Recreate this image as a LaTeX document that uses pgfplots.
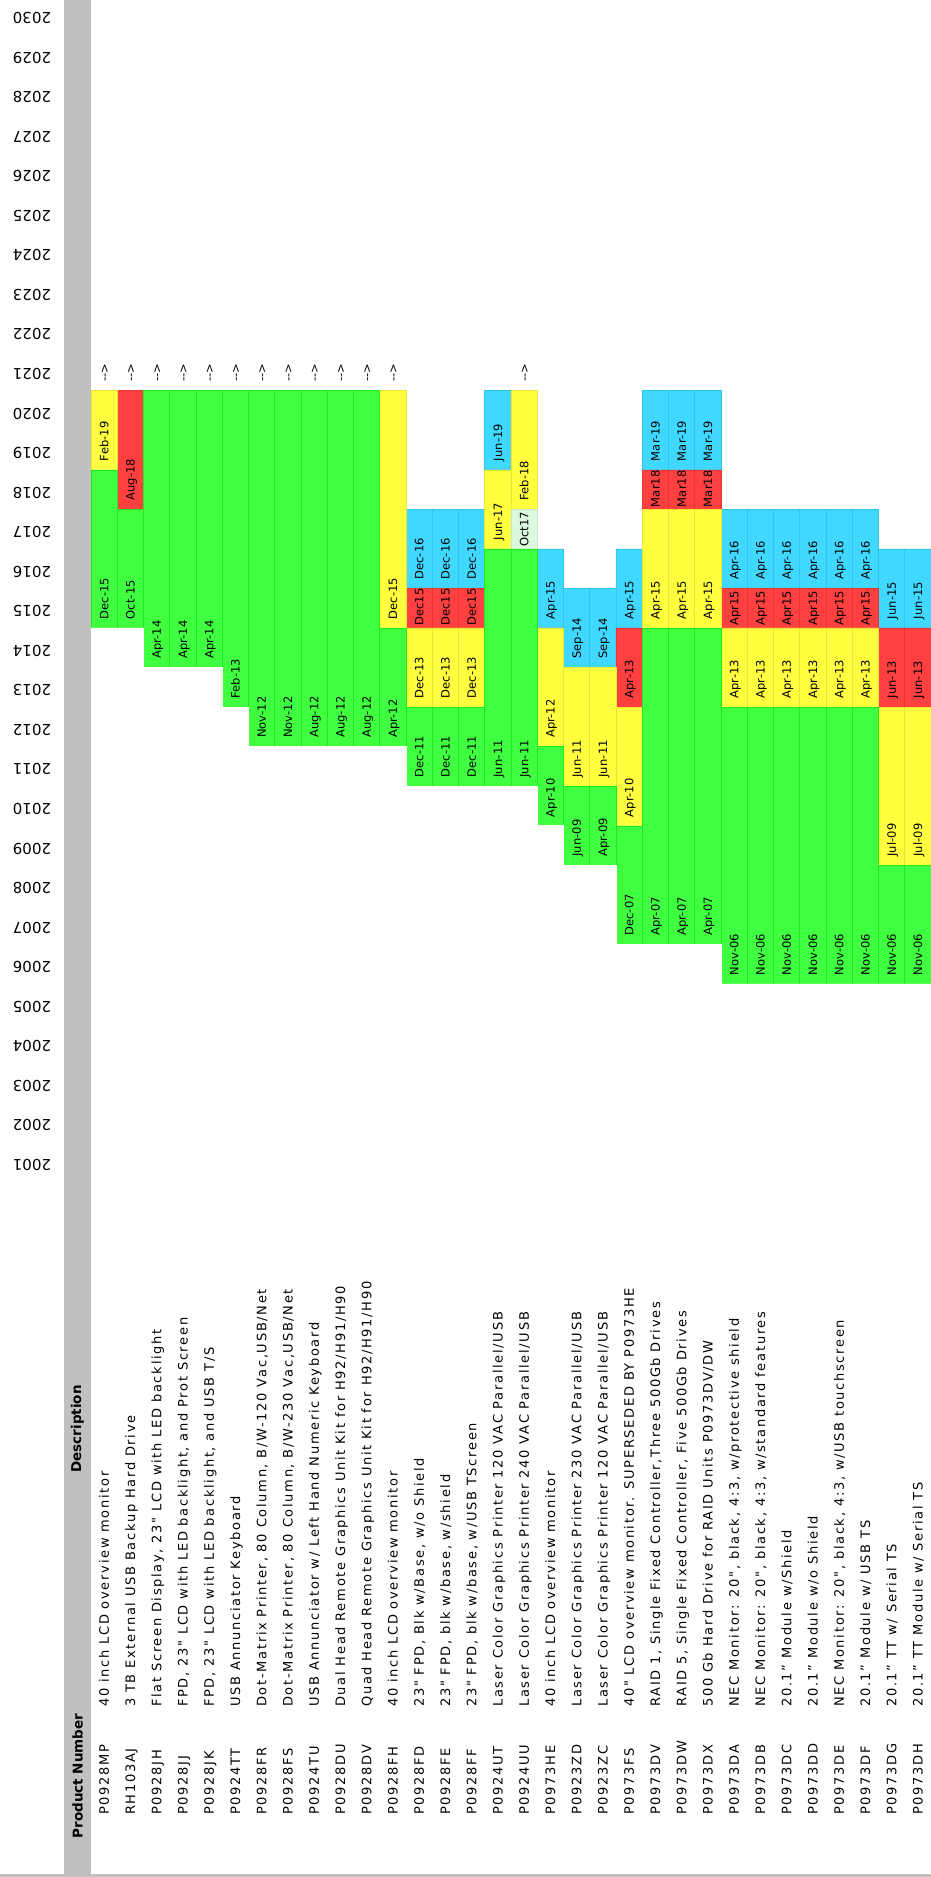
\documentclass[border=0pt]{standalone}
\usepackage{fontspec}
\setmainfont{DejaVu Sans}
\newfontfamily\tblfont{DejaVu Sans}[LetterSpace=13]
\newfontfamily\datfont{DejaVu Sans}[LetterSpace=1]
\usepackage{pgfplots}
\usepackage{pgfplotstable}
\pgfplotsset{compat=1.18}
\definecolor{cG}{HTML}{40FF40}\definecolor{cGd}{HTML}{22E822}
\definecolor{cL}{HTML}{DCF8DE}\definecolor{cLd}{HTML}{C8E8CA}
\definecolor{cY}{HTML}{FFFF40}\definecolor{cYd}{HTML}{E8E832}
\definecolor{cR}{HTML}{FF4040}\definecolor{cRd}{HTML}{E83434}
\definecolor{cB}{HTML}{40D8FF}\definecolor{cBd}{HTML}{2EC4F0}
\definecolor{cGray}{HTML}{C0C0C0}
% S = first year (green), G/L/Y/R/B = last year of green, light green, yellow, red, blue
\pgfplotstableread{
i S G L Y R B
1 2015 2018 2018 2020 2020 2020
2 2015 2017 2017 2017 2020 2020
3 2014 2020 2020 2020 2020 2020
4 2014 2020 2020 2020 2020 2020
5 2014 2020 2020 2020 2020 2020
6 2013 2020 2020 2020 2020 2020
7 2012 2020 2020 2020 2020 2020
8 2012 2020 2020 2020 2020 2020
9 2012 2020 2020 2020 2020 2020
10 2012 2020 2020 2020 2020 2020
11 2012 2020 2020 2020 2020 2020
12 2012 2014 2014 2020 2020 2020
13 2011 2012 2012 2014 2015 2017
14 2011 2012 2012 2014 2015 2017
15 2011 2012 2012 2014 2015 2017
16 2011 2016 2016 2018 2018 2020
17 2011 2016 2017 2020 2020 2020
18 2010 2011 2011 2014 2014 2016
19 2009 2010 2010 2013 2013 2015
20 2009 2010 2010 2013 2013 2015
21 2007 2009 2009 2012 2014 2016
22 2007 2014 2014 2017 2018 2020
23 2007 2014 2014 2017 2018 2020
24 2007 2014 2014 2017 2018 2020
25 2006 2012 2012 2014 2015 2017
26 2006 2012 2012 2014 2015 2017
27 2006 2012 2012 2014 2015 2017
28 2006 2012 2012 2014 2015 2017
29 2006 2012 2012 2014 2015 2017
30 2006 2012 2012 2014 2015 2017
31 2006 2008 2008 2012 2014 2016
32 2006 2008 2008 2012 2014 2016
}\bars
\pgfplotstableread[col sep=semicolon]{
i;pn;desc
1;P0928MP;40 inch LCD overview monitor
2;RH103AJ;3 TB External USB Backup Hard Drive
3;P0928JH;Flat Screen Display, 23" LCD with LED backlight
4;P0928JJ;FPD, 23" LCD with LED backlight, and Prot Screen
5;P0928JK;FPD, 23" LCD with LED backlight, and USB T/S
6;P0924TT;USB Annunciator Keyboard
7;P0928FR;Dot-Matrix Printer, 80 Column, B/W-120 Vac,USB/Net
8;P0928FS;Dot-Matrix Printer, 80 Column, B/W-230 Vac,USB/Net
9;P0924TU;USB Annunciator w/ Left Hand Numeric Keyboard
10;P0928DU;Dual Head Remote Graphics Unit Kit for H92/H91/H90
11;P0928DV;Quad Head Remote Graphics Unit Kit for H92/H91/H90
12;P0928FH;40 inch LCD overview monitor
13;P0928FD;23" FPD, Blk w/Base, w/o Shield
14;P0928FE;23" FPD, blk w/base, w/shield
15;P0928FF;23" FPD, blk w/base, w/USB TScreen
16;P0924UT;Laser Color Graphics Printer 120 VAC Parallel/USB
17;P0924UU;Laser Color Graphics Printer 240 VAC Parallel/USB
18;P0973HE;40 inch LCD overview monitor
19;P0923ZD;Laser Color Graphics Printer 230 VAC Parallel/USB
20;P0923ZC;Laser Color Graphics Printer 120 VAC Parallel/USB
21;P0973FS;40" LCD overview monitor. SUPERSEDED BY P0973HE
22;P0973DV;RAID 1, Single Fixed Controller,Three 500Gb Drives
23;P0973DW;RAID 5, Single Fixed Controller, Five 500Gb Drives
24;P0973DX;500 Gb Hard Drive for RAID Units P0973DV/DW
25;P0973DA;NEC Monitor: 20", black, 4:3, w/protective shield
26;P0973DB;NEC Monitor: 20", black, 4:3, w/standard features
27;P0973DC;20.1” Module w/Shield
28;P0973DD;20.1” Module w/o Shield
29;P0973DE;NEC Monitor: 20", black, 4:3, w/USB touchscreen
30;P0973DF;20.1” Module w/ USB TS
31;P0973DG;20.1” TT w/ Serial TS
32;P0973DH;20.1” TT Module w/ Serial TS
}\prods
% date labels: column, year cell, text, offset from cell bottom
\pgfplotstableread{
i yr lab off
1 2015 Dec-15 0.215
1 2019 Feb-19 0.215
2 2015 Oct-15 0.215
2 2018 Aug-18 0.215
3 2014 Apr-14 0.215
4 2014 Apr-14 0.215
5 2014 Apr-14 0.215
6 2013 Feb-13 0.215
7 2012 Nov-12 0.215
8 2012 Nov-12 0.215
9 2012 Aug-12 0.215
10 2012 Aug-12 0.215
11 2012 Aug-12 0.215
12 2012 Apr-12 0.215
12 2015 Dec-15 0.215
13 2011 Dec-11 0.215
13 2013 Dec-13 0.215
13 2015 Dec15 0.05
13 2016 Dec-16 0.215
14 2011 Dec-11 0.215
14 2013 Dec-13 0.215
14 2015 Dec15 0.05
14 2016 Dec-16 0.215
15 2011 Dec-11 0.215
15 2013 Dec-13 0.215
15 2015 Dec15 0.05
15 2016 Dec-16 0.215
16 2011 Jun-11 0.215
16 2017 Jun-17 0.215
16 2019 Jun-19 0.215
17 2011 Jun-11 0.215
17 2017 Oct17 0.05
17 2018 Feb-18 0.215
18 2010 Apr-10 0.215
18 2012 Apr-12 0.215
18 2015 Apr-15 0.215
19 2009 Jun-09 0.215
19 2011 Jun-11 0.215
19 2014 Sep-14 0.215
20 2009 Apr-09 0.215
20 2011 Jun-11 0.215
20 2014 Sep-14 0.215
21 2007 Dec-07 0.215
21 2010 Apr-10 0.215
21 2013 Apr-13 0.215
21 2015 Apr-15 0.215
22 2007 Apr-07 0.215
22 2015 Apr-15 0.215
22 2018 Mar18 0.05
22 2019 Mar-19 0.215
23 2007 Apr-07 0.215
23 2015 Apr-15 0.215
23 2018 Mar18 0.05
23 2019 Mar-19 0.215
24 2007 Apr-07 0.215
24 2015 Apr-15 0.215
24 2018 Mar18 0.05
24 2019 Mar-19 0.215
25 2006 Nov-06 0.215
25 2013 Apr-13 0.215
25 2015 Apr15 0.05
25 2016 Apr-16 0.215
26 2006 Nov-06 0.215
26 2013 Apr-13 0.215
26 2015 Apr15 0.05
26 2016 Apr-16 0.215
27 2006 Nov-06 0.215
27 2013 Apr-13 0.215
27 2015 Apr15 0.05
27 2016 Apr-16 0.215
28 2006 Nov-06 0.215
28 2013 Apr-13 0.215
28 2015 Apr15 0.05
28 2016 Apr-16 0.215
29 2006 Nov-06 0.215
29 2013 Apr-13 0.215
29 2015 Apr15 0.05
29 2016 Apr-16 0.215
30 2006 Nov-06 0.215
30 2013 Apr-13 0.215
30 2015 Apr15 0.05
30 2016 Apr-16 0.215
31 2006 Nov-06 0.215
31 2009 Jul-09 0.215
31 2013 Jun-13 0.215
31 2015 Jun-15 0.215
32 2006 Nov-06 0.215
32 2009 Jul-09 0.215
32 2013 Jun-13 0.215
32 2015 Jun-15 0.215
}\dates
% columns still marked as continuing ("-->") in 2021
\pgfplotstableread{
i yr
1 2021
2 2021
3 2021
4 2021
5 2021
6 2021
7 2021
8 2021
9 2021
10 2021
11 2021
12 2021
17 2021
}\arrows
\pgfplotstableread{
pos yr
-1.748 2001
-1.748 2002
-1.748 2003
-1.748 2004
-1.748 2005
-1.748 2006
-1.748 2007
-1.748 2008
-1.748 2009
-1.748 2010
-1.748 2011
-1.748 2012
-1.748 2013
-1.748 2014
-1.748 2015
-1.748 2016
-1.748 2017
-1.748 2018
-1.748 2019
-1.748 2020
-1.748 2021
-1.748 2022
-1.748 2023
-1.748 2024
-1.748 2025
-1.748 2026
-1.748 2027
-1.748 2028
-1.748 2029
-1.748 2030
}\years
\begin{document}
\begin{tikzpicture}
\begin{axis}[
  scale only axis, width=931pt, height=1877pt,
  xmin=-2.9667, xmax=32.5, ymin=-17.08, ymax=30.379,
  hide axis,
]
\path (rel axis cs:0,0) rectangle (rel axis cs:1,1);
% phases drawn back to front (each bar from year 2000 up to the end of its phase)
\addplot[ybar, bar width=1, bar shift=0pt, fill=cB, draw=cBd, line width=0.5pt] table[x=i, y expr=\thisrow{B}-1999.5] {\bars};
\addplot[ybar, bar width=1, bar shift=0pt, fill=cR, draw=cRd, line width=0.5pt] table[x=i, y expr=\thisrow{R}-1999.5] {\bars};
\addplot[ybar, bar width=1, bar shift=0pt, fill=cY, draw=cYd, line width=0.5pt] table[x=i, y expr=\thisrow{Y}-1999.5] {\bars};
\addplot[ybar, bar width=1, bar shift=0pt, fill=cL, draw=cLd, line width=0.5pt] table[x=i, y expr=\thisrow{L}-1999.5] {\bars};
\addplot[ybar, bar width=1, bar shift=0pt, fill=cG, draw=cGd, line width=0.5pt] table[x=i, y expr=\thisrow{G}-1999.5] {\bars};
\addplot[ybar, bar width=1, bar shift=0pt, fill=white, draw=white, line width=0.6pt] table[x=i, y expr=\thisrow{S}-2000.5] {\bars};
% header band
\fill[cGray] (axis cs:-0.5286,-17.004) rectangle (axis cs:0.5,30.379);
\fill[cGray] (axis cs:-2.9667,-17.08) rectangle (axis cs:32.5,-17.004);
\node[rotate=90, font=\bfseries\fontsize{13.5}{15}\selectfont] at (axis cs:-0.0143,-14.526) {Product Number};
\node[rotate=90, font=\bfseries\fontsize{13.5}{15}\selectfont] at (axis cs:-0.0143,-5.752) {Description};
% year labels
\addplot[draw=none, nodes near coords, point meta=explicit symbolic,
  nodes near coords style={rotate=180, anchor=center, inner sep=0pt, font=\fontsize{15}{17}\selectfont}]
  table[x=pos, y expr=\thisrow{yr}-2000.076, meta=yr] {\years};
% date labels
\addplot[draw=none, nodes near coords, point meta=explicit symbolic,
  nodes near coords style={rotate=90, anchor=west, inner sep=0pt, text height=8.5pt, text depth=0pt, font=\datfont\fontsize{11.5}{13}\selectfont}]
  table[x=i, y expr=\thisrow{yr}-2000.5+\thisrow{off}, meta=lab] {\dates};
\addplot[draw=none, nodes near coords={-{}-{}>},
  nodes near coords style={rotate=90, anchor=west, inner sep=0pt, text height=8.5pt, text depth=0pt, font=\datfont\fontsize{11.5}{13}\selectfont}]
  table[x=i, y expr=\thisrow{yr}-2000.5+0.215] {\arrows};
% product numbers and descriptions
\addplot[draw=none, nodes near coords, point meta=explicit symbolic,
  nodes near coords style={rotate=90, anchor=west, inner sep=0pt, text height=9.5pt, text depth=0pt, font=\tblfont\fontsize{13}{15}\selectfont}]
  table[x=i, y expr=-15.512, meta=pn] {\prods};
\addplot[draw=none, nodes near coords, point meta=explicit symbolic,
  nodes near coords style={rotate=90, anchor=west, inner sep=0pt, text height=9.5pt, text depth=0pt, font=\tblfont\fontsize{13}{15}\selectfont}]
  table[x=i, y expr=-12.781, meta=desc] {\prods};
\end{axis}
\end{tikzpicture}
\end{document}
